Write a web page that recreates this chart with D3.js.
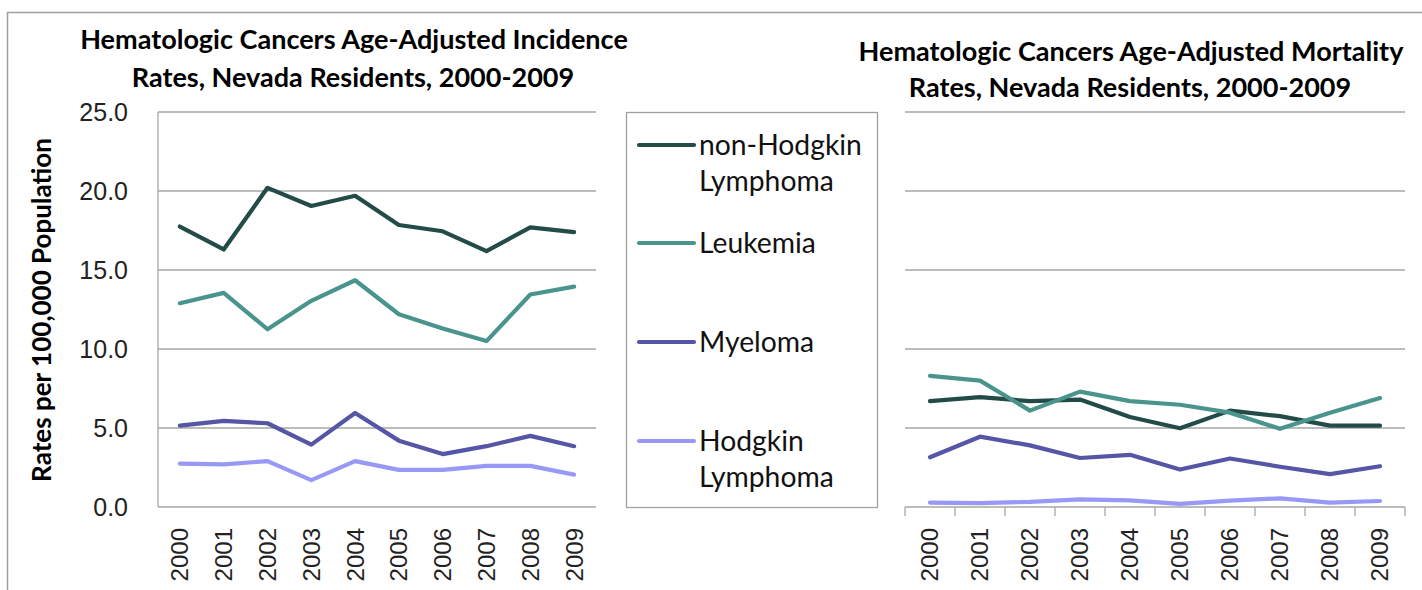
<!DOCTYPE html>
<html>
<head>
<meta charset="utf-8">
<script src="https://cdn.jsdelivr.net/npm/d3@7/dist/d3.min.js"></script>
<style>
  html, body { margin: 0; padding: 0; background: #fff; }
  svg { display: block; }
</style>
</head>
<body>
<svg id="chart" width="1422" height="590"></svg>
<script>
// ---------- DATA ----------
const years = ["2000","2001","2002","2003","2004","2005","2006","2007","2008","2009"];
const seriesNames = ["non-Hodgkin Lymphoma", "Leukemia", "Myeloma", "Hodgkin Lymphoma"];
const yTicks = [0, 5, 10, 15, 20, 25];

// Incidence (left chart)
const incNHL      = [17.75, 16.3, 20.2, 19.05, 19.7, 17.85, 17.45, 16.2, 17.7, 17.4];
const incLeukemia = [12.9, 13.55, 11.25, 13.05, 14.35, 12.2, 11.3, 10.5, 13.45, 13.95];
const incMyeloma  = [5.15, 5.45, 5.3, 3.95, 5.95, 4.2, 3.35, 3.85, 4.5, 3.85];
const incHodgkin  = [2.75, 2.7, 2.9, 1.7, 2.9, 2.35, 2.35, 2.6, 2.6, 2.05];

// Mortality (right chart)
const morNHL      = [6.7, 6.95, 6.7, 6.8, 5.7, 4.98, 6.1, 5.75, 5.15, 5.15];
const morLeukemia = [8.3, 8.0, 6.1, 7.3, 6.7, 6.47, 5.97, 4.95, 5.97, 6.9];
const morMyeloma  = [3.15, 4.45, 3.9, 3.1, 3.3, 2.37, 3.07, 2.55, 2.08, 2.58];
const morHodgkin  = [0.28, 0.25, 0.32, 0.48, 0.42, 0.2, 0.4, 0.55, 0.28, 0.38];

const titleIncidence = ["Hematologic Cancers Age-Adjusted Incidence", "Rates, Nevada Residents, 2000-2009"];
const titleMortality = ["Hematologic Cancers Age-Adjusted Mortality", "Rates, Nevada Residents, 2000-2009"];
const yAxisTitle = "Rates per 100,000 Population";

// ---------- STYLE ----------
const colors = ["#234c48", "#4a948e", "#5656a6", "#9898f6"];
const gridColor = "#a6a6a6";
const titleFont = "Lato, 'Open Sans', sans-serif";
const tickFont = "'Liberation Sans', Arial, sans-serif";

const svg = d3.select("#chart");

function fitWidth(sel, target) {
  const w = sel.node().getComputedTextLength();
  const fs = parseFloat(sel.attr("font-size"));
  const nfs = fs * target / w;
  sel.attr("font-size", nfs);
  return nfs;
}

// outer frame
svg.append("rect")
  .attr("x", 7.5).attr("y", 12.5)
  .attr("width", 1600).attr("height", 800)
  .attr("fill", "none").attr("stroke", "#a0a0a0").attr("stroke-width", 1.5);

// scales
const y = d3.scaleLinear().domain([0, 25]).range([507, 112]);
const xL = d3.scaleBand().domain(years).range([158, 596]);
const xR = d3.scaleBand().domain(years).range([905, 1405]);

// ---------- TITLES ----------
const t1 = svg.append("text").text(titleIncidence[0])
  .attr("x", 354).attr("y", 40).attr("dy", "0.35em")
  .attr("text-anchor", "middle").attr("font-family", titleFont)
  .attr("font-weight", "bold").attr("font-size", 22).attr("fill", "#000");
const titleFs = fitWidth(t1, 548);
svg.append("text").text(titleIncidence[1])
  .attr("x", 353).attr("y", 78).attr("dy", "0.35em")
  .attr("text-anchor", "middle").attr("font-family", titleFont)
  .attr("font-weight", "bold").attr("font-size", titleFs).attr("fill", "#000");
svg.append("text").text(titleMortality[0])
  .attr("x", 1131).attr("y", 52).attr("dy", "0.35em")
  .attr("text-anchor", "middle").attr("font-family", titleFont)
  .attr("font-weight", "bold").attr("font-size", titleFs).attr("fill", "#000");
svg.append("text").text(titleMortality[1])
  .attr("x", 1130).attr("y", 88).attr("dy", "0.35em")
  .attr("text-anchor", "middle").attr("font-family", titleFont)
  .attr("font-weight", "bold").attr("font-size", titleFs).attr("fill", "#000");

// y axis title
const yt = svg.append("text").text(yAxisTitle)
  .attr("transform", "translate(42,310) rotate(-90)")
  .attr("dy", "0.35em")
  .attr("text-anchor", "middle").attr("font-family", titleFont)
  .attr("font-weight", "bold").attr("font-size", 22).attr("fill", "#000");
fitWidth(yt, 344);

// ---------- PANELS ----------
function drawPanel(x, series, opts) {
  const g = svg.append("g");
  const [r0, r1] = x.range();
  // gridlines
  g.append("g").selectAll("line").data(yTicks.filter(d => d > 0)).join("line")
    .attr("x1", r0).attr("x2", r1)
    .attr("y1", d => y(d)).attr("y2", d => y(d))
    .attr("stroke", gridColor).attr("stroke-width", 1.3);
  // bottom axis line
  g.append("line").attr("x1", r0).attr("x2", r1)
    .attr("y1", y(0)).attr("y2", y(0))
    .attr("stroke", gridColor).attr("stroke-width", 1.3);
  if (opts.leftAxis) {
    g.append("line").attr("x1", r0).attr("x2", r0)
      .attr("y1", y(25)).attr("y2", y(0))
      .attr("stroke", gridColor).attr("stroke-width", 1.3);
    g.append("g").selectAll("text").data(yTicks).join("text")
      .attr("x", r0 - 30).attr("y", d => y(d)).attr("dy", "0.35em")
      .attr("text-anchor", "end").attr("font-family", tickFont)
      .attr("font-size", 25).attr("fill", "#222")
      .text(d => d3.format(".1f")(d));
  }
  if (opts.ticks) {
    const bounds = years.map(d => x(d)).concat([r1]);
    g.append("g").selectAll("line").data(bounds).join("line")
      .attr("x1", d => d).attr("x2", d => d)
      .attr("y1", y(0)).attr("y2", y(0) + 9)
      .attr("stroke", gridColor).attr("stroke-width", 1.3);
  }
  // x labels
  g.append("g").selectAll("text").data(years).join("text")
    .attr("transform", d => `translate(${x(d) + x.bandwidth() / 2},${y(0) + 21}) rotate(-90)`)
    .attr("dy", "0.35em")
    .attr("text-anchor", "end").attr("font-family", tickFont)
    .attr("font-size", 24).attr("fill", "#222")
    .text(d => d);
  // lines
  const line = d3.line()
    .x((d, i) => x(years[i]) + x.bandwidth() / 2)
    .y(d => y(d));
  series.forEach((s, i) => {
    g.append("path").datum(s)
      .attr("d", line)
      .attr("fill", "none").attr("stroke", colors[i])
      .attr("stroke-width", 4.2)
      .attr("stroke-linejoin", "round").attr("stroke-linecap", "round");
  });
}

drawPanel(xL, [incNHL, incLeukemia, incMyeloma, incHodgkin], { leftAxis: true, ticks: false });
drawPanel(xR, [morNHL, morLeukemia, morMyeloma, morHodgkin], { leftAxis: false, ticks: true });

// ---------- LEGEND ----------
const lg = svg.append("g");
lg.append("rect").attr("x", 626.5).attr("y", 112.5)
  .attr("width", 251).attr("height", 395)
  .attr("fill", "#fff").attr("stroke", "#a0a0a0").attr("stroke-width", 1.3);

const legendRows = [
  { lines: ["non-Hodgkin", "Lymphoma"], y: 145 },
  { lines: ["Leukemia"], y: 243 },
  { lines: ["Myeloma"], y: 342 },
  { lines: ["Hodgkin", "Lymphoma"], y: 441 }
];
// measure legend font size from first label
const probe = lg.append("text").text(legendRows[0].lines[0])
  .attr("font-family", titleFont).attr("font-size", 22);
const legendFs = fitWidth(probe, 163);
probe.remove();

legendRows.forEach((row, i) => {
  lg.append("line").attr("x1", 639).attr("x2", 694)
    .attr("y1", row.y).attr("y2", row.y)
    .attr("stroke", colors[i]).attr("stroke-width", 4.2)
    .attr("stroke-linecap", "round");
  row.lines.forEach((t, j) => {
    lg.append("text").text(t)
      .attr("x", 699).attr("y", row.y + j * 36).attr("dy", "0.35em")
      .attr("font-family", titleFont).attr("font-size", legendFs)
      .attr("fill", "#111");
  });
});
</script>
</body>
</html>
